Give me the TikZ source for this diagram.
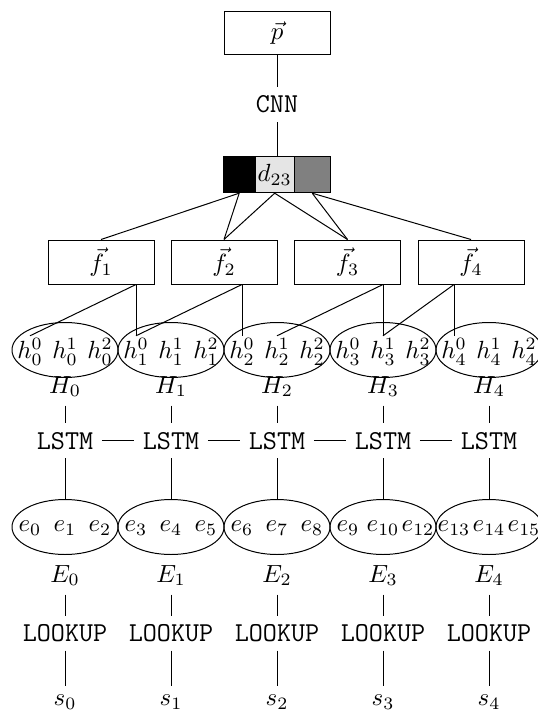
\documentclass[tikz,border=0pt]{standalone}
\usetikzlibrary{shapes.geometric}
\def\u{0.40244pt}
\begin{document}
\begin{tikzpicture}[x=0.40244pt,y=-0.40244pt,
  box/.style={draw, minimum width=106*\u, minimum height=43*\u, inner sep=0pt},
  cell/.style={draw, minimum height=36*\u, inner sep=0pt},
  ell/.style={draw, ellipse, minimum width=106*\u, minimum height=55*\u, inner sep=0pt},
  tt/.style={font=\fontsize{11}{13}\selectfont\ttfamily, anchor=base},
  hn/.style={inner sep=1pt, anchor=base},
  lbl/.style={anchor=base}]
\useasboundingbox (0,0) rectangle (537,711);
% top
\node[box] (p) at (277,33) {$\vec{p}$};
\node[tt] (cnn) at (277,113) {CNN};
\node[cell, fill=black, minimum width=31.7*\u] (db) at (239.2,174.7) {};
\node[cell, fill=gray!20, minimum width=39.3*\u] (dl) at (274.7,174.7) {$d_{23}$};
\node[cell, fill=gray, minimum width=35.7*\u] (dg) at (312.2,174.7) {};
\draw (p) -- (cnn);
\draw (cnn) -- (cnn |- dl.north);
% f boxes
\node[box, minimum height=44*\u] (f1) at (101,262) {$\vec{f}_1$};
\node[box, minimum height=44*\u] (f2) at (224,262) {$\vec{f}_2$};
\node[box, minimum height=44*\u] (f3) at (347.5,262) {$\vec{f}_3$};
\node[box, minimum height=44*\u] (f4) at (471,262) {$\vec{f}_4$};
\draw (db.south) -- (f1.north);
\draw (db.south) -- (f2.north);
\draw (dl.south) -- (f2.north);
\draw (dl.south) -- (f3.north);
\draw (dg.south) -- (f3.north);
\draw (dg.south) -- (f4.north);
% columns
\foreach \k/\ea/\eb/\ec in {0/0/1/2, 1/3/4/5, 2/6/7/8, 3/9/10/12, 4/13/14/15} {
  \pgfmathsetmacro{\cx}{65+106*\k}
  \node[ell] (H\k) at (\cx,350) {};
  \node[hn] (h\k-0) at (\cx-35,359) {$h_{\k}^{0}$};
  \node[hn] (h\k-1) at (\cx,359) {$h_{\k}^{1}$};
  \node[hn] (h\k-2) at (\cx+35,359) {$h_{\k}^{2}$};
  \node[lbl] (HL\k) at (\cx,393) {$H_{\k}$};
  \node[tt] (L\k) at (\cx,449) {LSTM};
  \node[ell] (E\k) at (\cx,527) {};
  \node[hn] (e\k-0) at (\cx-35,531.5) {$e_{\ea}$};
  \node[hn] (e\k-1) at (\cx,531.5) {$e_{\eb}$};
  \node[hn] (e\k-2) at (\cx+35,531.5) {$e_{\ec}$};
  \node[lbl] (EL\k) at (\cx,582) {$E_{\k}$};
  \node[tt] (LK\k) at (\cx,641.5) {LOOKUP};
  \node[lbl] (s\k) at (\cx,705.5) {$s_{\k}$};
  \draw (HL\k) -- (L\k);
  \draw (L\k) -- (E\k);
  \draw (EL\k) -- (LK\k);
  \draw (LK\k) -- (s\k);
}
\foreach \a/\b in {0/1,1/2,2/3,3/4} \draw (L\a) -- (L\b);
% f to h
\draw (f1.south -| h1-0) -- (h1-0.north);
\draw (f1.south -| h1-0) -- (h0-0.north);
\draw (f2.south -| h2-0) -- (h2-0.north);
\draw (f2.south -| h2-0) -- (h1-0.north);
\draw (f3.south -| h3-1) -- (h3-1.north);
\draw (f3.south -| h3-1) -- (h2-1.north);
\draw (f4.south -| h4-0) -- (h4-0.north);
\draw (f4.south -| h4-0) -- (h3-1.north);
\end{tikzpicture}
\end{document}
